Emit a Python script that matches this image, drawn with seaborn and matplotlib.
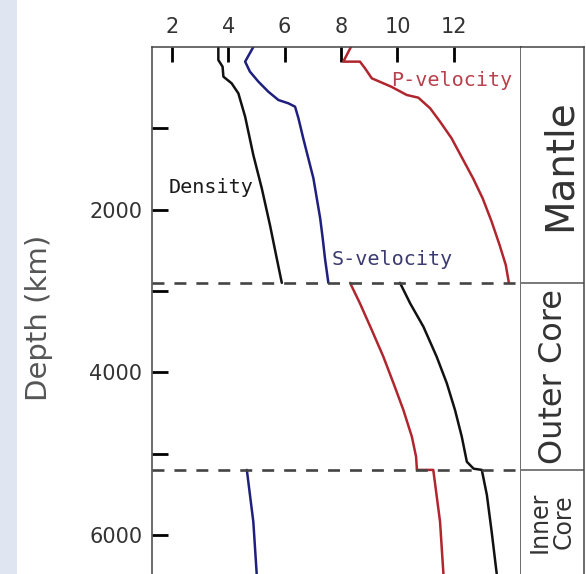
import numpy as np
import pandas as pd
import matplotlib
matplotlib.use("Agg")
import matplotlib.pyplot as plt
import matplotlib.transforms as mtransforms
from matplotlib.patches import Rectangle
import seaborn as sns

# ---------------- data ----------------
density_mantle_depth = [0, 160, 242, 365, 446, 570, 857, 1328, 1738, 2189, 2598, 2900]
density_mantle_value = [3.65, 3.65, 3.80, 3.83, 4.12, 4.36, 4.60, 4.89, 5.19, 5.48, 5.72, 5.90]

density_core_depth = [2900, 3152, 3439, 3808, 4135, 4463, 4791, 5100, 5185, 5200, 5508, 5960, 6480]
density_core_value = [10.09, 10.45, 10.92, 11.39, 11.75, 12.04, 12.28, 12.46, 12.70, 12.99, 13.17, 13.34, 13.52]

p_mantle_depth = [0, 180, 180, 262, 385, 488, 590, 623, 754, 918, 1123, 1369, 1614, 1860, 2148, 2434, 2680, 2900]
p_mantle_value = [8.35, 8.08, 8.67, 8.85, 9.09, 9.78, 10.33, 10.74, 11.16, 11.51, 11.92, 12.30, 12.68, 13.02, 13.34, 13.62, 13.84, 13.95]

p_core_depth = [2900, 3152, 3480, 3808, 4135, 4463, 4791, 5037, 5200, 5200, 5837, 6480]
p_core_value = [8.32, 8.67, 9.09, 9.50, 9.86, 10.21, 10.51, 10.66, 10.69, 11.27, 11.51, 11.63]

s_mantle_depth = [0, 180, 303, 426, 549, 652, 692, 734, 877, 1123, 1369, 1614, 1860, 2106, 2352, 2598, 2900]
s_mantle_value = [4.89, 4.60, 4.77, 5.07, 5.42, 5.78, 6.13, 6.37, 6.49, 6.66, 6.84, 7.02, 7.14, 7.26, 7.35, 7.43, 7.55]

s_inner_depth = [5200, 5837, 6480]
s_inner_value = [4.66, 4.89, 5.01]

boundary_depths = [2900, 5200]
bottom_depth = 6480
region_labels = ["Mantle", "Outer Core", "Inner\nCore"]

x_ticks = [2, 4, 6, 8, 10, 12]
x_tick_labels = ["2", "4", "6", "8", "10", "12"]
y_major = [2000, 4000, 6000]
y_major_labels = ["2000", "4000", "6000"]
y_minor = [1000, 3000, 5000]

curve_labels = {"P": "P-velocity", "S": "S-velocity", "Density": "Density"}
curve_label_pos = {"P": (11.94, 418), "Density": (3.39, 1728), "S": (9.83, 2619)}

# ---------------- table for seaborn ----------------
segments = [
    ("Density", "density_mantle", density_mantle_value, density_mantle_depth),
    ("Density", "density_core", density_core_value, density_core_depth),
    ("P", "p_mantle", p_mantle_value, p_mantle_depth),
    ("P", "p_core", p_core_value, p_core_depth),
    ("S", "s_mantle", s_mantle_value, s_mantle_depth),
    ("S", "s_inner", s_inner_value, s_inner_depth),
]
rows = []
for series, seg, vals, deps in segments:
    for i, (v, d) in enumerate(zip(vals, deps)):
        rows.append({"series": series, "segment": seg, "order": i, "value": v, "depth": d})
df = pd.DataFrame(rows)

# ---------------- style ----------------
sns.set_style("white")
plt.rcParams["font.family"] = ["DejaVu Sans"]
plt.rcParams["lines.scale_dashes"] = False

palette = {"Density": "#111111", "S": "#1f1f7e", "P": "#b0262e"}
text_colors = {"Density": "#1a1a1a", "S": "#3b3b72", "P": "#b8414d"}

W, H = 586, 574
left_px, right_main_px, right_panel_px, top_px = 152, 521, 584, 47

fig = plt.figure(figsize=(W / 100, H / 100), dpi=100)
fig.add_artist(Rectangle((0, 0), 17 / W, 1, transform=fig.transFigure,
                         facecolor="#dfe6f1", edgecolor="none", zorder=0))

ax = fig.add_axes([left_px / W, 0, (right_main_px - left_px) / W, (H - top_px) / H])
axr = fig.add_axes([right_main_px / W, 0, (right_panel_px - right_main_px) / W, (H - top_px) / H])

sns.lineplot(data=df, x="value", y="depth", hue="series", units="segment",
             estimator=None, sort=False, palette=palette, linewidth=1.8,
             legend=False, ax=ax)

for d in boundary_depths:
    ax.axhline(d, color="#444444", lw=1.9, linestyle=(0, (8.6, 7.2)), zorder=3)
    axr.axhline(d, color="#555555", lw=1.1)

ax.set_xlim(1.298, 14.38)
ax.set_ylim(bottom_depth, 0)
axr.set_xlim(0, 1)
axr.set_ylim(bottom_depth, 0)

# spines
for s in ["left", "top", "right"]:
    ax.spines[s].set_color("#444444")
    ax.spines[s].set_linewidth(1.1)
ax.spines["bottom"].set_visible(False)
for s in ["top", "right"]:
    axr.spines[s].set_color("#444444")
    axr.spines[s].set_linewidth(1.1)
axr.spines["left"].set_visible(False)
axr.spines["bottom"].set_visible(False)

# ticks
ax.xaxis.tick_top()
ax.set_xticks(x_ticks)
ax.set_xticklabels(x_tick_labels)
ax.tick_params(axis="x", which="major", direction="in", length=10.8, width=2,
               color="black", pad=7, labelsize=15, labelcolor="#333333",
               top=True, bottom=False, labeltop=True, labelbottom=False)
ax.set_yticks(y_major)
ax.set_yticklabels(y_major_labels)
ax.set_yticks(y_minor, minor=True)
ax.tick_params(axis="y", which="both", direction="in", length=11.5, width=2,
               color="black", left=True, right=False)
ax.tick_params(axis="y", which="major", labelsize=15, labelcolor="#333333", pad=7)
ax.set_xlabel("")
ax.set_ylabel("Depth (km)", fontsize=21, color="#555555")
ax.yaxis.set_label_coords(-0.268, 0.486)

axr.set_xticks([])
axr.set_yticks([])
axr.set_xlabel("")
axr.set_ylabel("")

# curve labels
for key, (xv, yv) in curve_label_pos.items():
    ax.text(xv, yv, curve_labels[key], color=text_colors[key],
            family="DejaVu Sans Mono", fontsize=14.5, ha="center", va="center")

# region labels
edges = [0] + boundary_depths + [bottom_depth]
mids = [(edges[i] + edges[i + 1]) / 2 for i in range(3)]
trans = mtransforms.blended_transform_factory(axr.transAxes, axr.transData)
label_x = [0.61, 0.51, 0.49]
label_size = [28, 23, 17]
for lab, mid, lx, fs in zip(region_labels, mids, label_x, label_size):
    axr.text(lx, mid, lab, rotation=90, ha="center", va="center",
             fontsize=fs, color="#333333", transform=trans,
             multialignment="center", linespacing=1.0)

fig.savefig("out.png", dpi=100)
